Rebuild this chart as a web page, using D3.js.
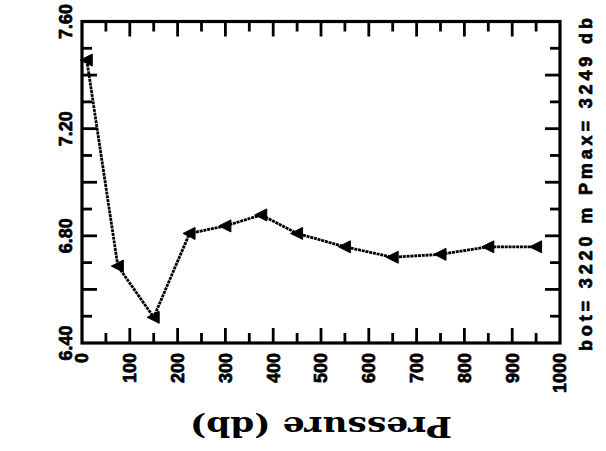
<!DOCTYPE html>
<html>
<head>
<meta charset="utf-8">
<script src="https://cdn.jsdelivr.net/npm/d3@7"></script>
<style>
  html, body { margin: 0; padding: 0; background: #fff; }
  svg { display: block; }
</style>
</head>
<body>
<div id="chart"></div>
<script>
// Station profile: value versus pressure, bottle depths
const pressures = [10, 75, 150, 225, 300, 375, 450, 550, 650, 750, 850, 950];
const values = [7.456, 6.687, 6.496, 6.809, 6.837, 6.878, 6.809, 6.759, 6.720, 6.731, 6.759, 6.759];

const xTickLabels = [0, 100, 200, 300, 400, 500, 600, 700, 800, 900, 1000];
const yTickLabels = [6.4, 6.8, 7.2, 7.6];
const xDomain = [0, 1000];
const yDomain = [6.4, 7.6];
const axisTitle = "Pressure (db)";
const stationNote = "bot= 3220 m Pmax= 3249 db";

const W = 606, H = 451;
const frame = { left: 82, right: 560, top: 21.5, bottom: 343 };

const svg = d3.select("#chart").append("svg")
  .attr("width", W).attr("height", H);

const x = d3.scaleLinear().domain(xDomain).range([frame.left, frame.right]);
const y = d3.scaleLinear().domain(yDomain).range([frame.bottom, frame.top]);

const ink = "#000";
const labelFont = "'Liberation Sans', Arial, Helvetica, sans-serif";

// Tick marks on all four sides, pointing inward
const xMinor = d3.range(50, 1000, 100);
const xMajor = d3.range(100, 1000, 100);
const yMinor = d3.range(0, 12, 2).map(i => +(6.5 + i * 0.1).toFixed(2));
const yMajor = d3.range(1, 6).map(i => +(6.4 + i * 0.2).toFixed(2));
const minorLen = 10, majorLen = 15;

function xTicks(g, vals, len, dir) {
  g.selectAll(null).data(vals).join("line")
    .attr("x1", d => x(d)).attr("x2", d => x(d))
    .attr("y1", dir > 0 ? frame.top : frame.bottom)
    .attr("y2", dir > 0 ? frame.top + len : frame.bottom - len);
}
function yTicks(g, vals, len, dir) {
  g.selectAll(null).data(vals).join("line")
    .attr("y1", d => y(d)).attr("y2", d => y(d))
    .attr("x1", dir > 0 ? frame.left : frame.right)
    .attr("x2", dir > 0 ? frame.left + len : frame.right - len);
}

const ticks = svg.append("g")
  .attr("stroke", ink).attr("stroke-width", 2.8).attr("stroke-linecap", "butt");
xTicks(ticks, xMinor, minorLen, 1);
xTicks(ticks, xMajor, majorLen, 1);
xTicks(ticks, xMinor, minorLen, -1);
xTicks(ticks, xMajor, majorLen, -1);
yTicks(ticks, yMinor, minorLen, 1);
yTicks(ticks, yMajor, majorLen, 1);
yTicks(ticks, yMinor, minorLen, -1);
yTicks(ticks, yMajor, majorLen, -1);

// Frame
svg.append("rect")
  .attr("x", frame.left).attr("y", frame.top)
  .attr("width", frame.right - frame.left)
  .attr("height", frame.bottom - frame.top)
  .attr("fill", "none").attr("stroke", ink).attr("stroke-width", 3.2);

// Heavy plotter-style lettering
function heavy(sel) {
  return sel.attr("font-family", labelFont).attr("font-weight", "bold")
    .attr("font-size", 18).attr("fill", ink)
    .attr("stroke", ink).attr("stroke-width", 0.7).attr("stroke-linejoin", "round");
}

// X tick labels, rotated to read upward
svg.append("g").selectAll("text").data(xTickLabels).join("text")
  .attr("transform", d => `translate(${x(d)},${frame.bottom + 10}) rotate(-90)`)
  .attr("text-anchor", "end")
  .attr("dy", "0.36em")
  .call(heavy)
  .text(d => d);

// Y tick labels, rotated and centred on their values
svg.append("g").selectAll("text").data(yTickLabels).join("text")
  .attr("transform", d => `translate(${frame.left - 10},${y(d)}) rotate(-90)`)
  .attr("text-anchor", "middle")
  .call(heavy)
  .text(d => d.toFixed(2));

// Station note along the right edge
svg.append("text")
  .attr("transform", `translate(592,351) rotate(-90)`)
  .attr("text-anchor", "start")
  .attr("textLength", 333).attr("lengthAdjust", "spacing")
  .call(heavy)
  .text(stationNote);

// Axis title, set upside down
svg.append("text")
  .attr("transform", `translate(321,417) rotate(180)`)
  .attr("text-anchor", "middle")
  .attr("textLength", 262).attr("lengthAdjust", "spacingAndGlyphs")
  .attr("font-family", "'DejaVu Serif', 'Liberation Serif', serif")
  .attr("font-weight", "bold")
  .attr("font-size", 28).attr("fill", ink)
  .text(axisTitle);

// Profile line
const pts = pressures.map((p, i) => [p, values[i]]);
svg.append("path")
  .datum(pts)
  .attr("fill", "none").attr("stroke", ink)
  .attr("stroke-width", 2.8)
  .attr("stroke-dasharray", "3,0.8")
  .attr("d", d3.line().x(d => x(d[0])).y(d => y(d[1])));

// Left-pointing triangle markers
svg.append("g").selectAll("path").data(pts).join("path")
  .attr("transform", d => `translate(${x(d[0])},${y(d[1])})`)
  .attr("d", "M-6.5,0L5.5,-6L5.5,6Z")
  .attr("fill", ink).attr("stroke", ink).attr("stroke-width", 1)
  .attr("stroke-linejoin", "round");
</script>
</body>
</html>
